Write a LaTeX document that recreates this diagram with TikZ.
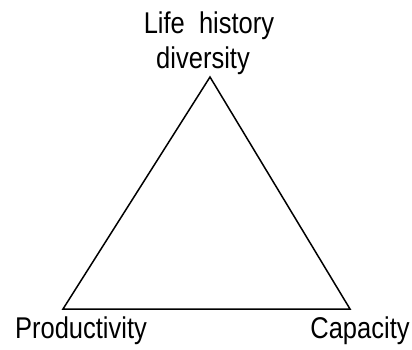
\documentclass[tikz,border=0pt]{standalone}
\usepackage{fontspec}
\setmainfont[FakeStretch=0.85]{Liberation Sans}
\begin{document}
\begin{tikzpicture}[x=1pt,y=1pt,font=\fontsize{30}{30}\selectfont]
	\useasboundingbox (0,0) rectangle (412,349);
	\coordinate (apex) at (210,272);
	\coordinate (prodcorner) at (63,40);
	\coordinate (capcorner) at (350,40);
	\draw[line width=1.5pt] (prodcorner) -- (apex) -- (capcorner) -- cycle;
	\node[anchor=base] (life) at (209,316) {Life\ \ history};
	\node[anchor=base] (div) at (203,280) {diversity};
	\node[anchor=base] (prod) at (81,11) {Productivity};
	\node[anchor=base] (cap) at (360,11) {Capacity};
\end{tikzpicture}
\end{document}
